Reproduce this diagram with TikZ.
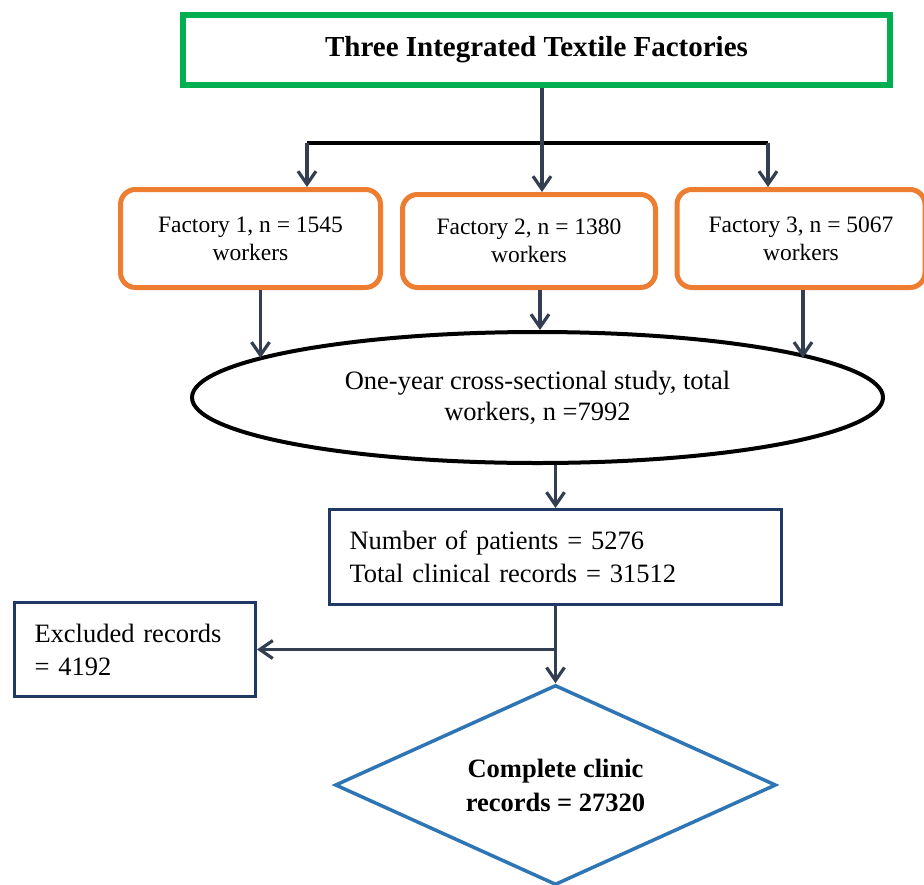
\documentclass[tikz,border=0pt]{standalone}
\usepackage{fontspec}
\setmainfont{Liberation Serif}
\usetikzlibrary{arrows.meta, shapes.geometric}

\definecolor{titlegreen}{HTML}{00B050}
\definecolor{factoryorange}{HTML}{ED7D31}
\definecolor{recordnavy}{HTML}{203864}
\definecolor{resultblue}{HTML}{2E75B6}
\definecolor{arrowslate}{HTML}{333F50}

\begin{document}
\begin{tikzpicture}[
  x=1pt,
  y=-1pt,
  titlebox/.style={
    draw=titlegreen,
    line width=6pt,
    minimum width=707pt,
    minimum height=70pt,
    font=\bfseries\fontsize{29}{34}\selectfont
  },
  factorybox/.style={
    draw=factoryorange,
    line width=5pt,
    rounded corners=15pt,
    align=center,
    font=\fontsize{23.5}{28}\selectfont
  },
  studyellipse/.style={
    ellipse,
    draw=black,
    line width=4pt,
    inner sep=0pt,
    minimum width=691pt,
    minimum height=131pt,
    align=center,
    font=\fontsize{26.5}{31}\selectfont
  },
  recordbox/.style={
    draw=recordnavy,
    line width=3pt,
    inner xsep=20pt,
    align=left,
    font=\fontsize{26.5}{33}\selectfont
  },
  resultdiamond/.style={
    diamond,
    aspect=2.2,
    draw=resultblue,
    line width=3.5pt,
    inner sep=0pt,
    minimum width=441pt,
    minimum height=200pt,
    align=center,
    font=\bfseries\fontsize{26.5}{34}\selectfont
  },
  flowarrow/.style={
    draw=arrowslate,
    line width=3.2pt,
    -{Straight Barb[length=13pt,width=18pt,line width=3.2pt]}
  },
  branchbar/.style={draw=black, line width=4.5pt}
]

% Canvas
\path[use as bounding box] (0,0) rectangle (924,884);

% Title
\node[titlebox] (title) at (536.5,50)
  {Three Integrated Textile Factories};

% Factories
\node[factorybox, minimum width=260pt, minimum height=98pt] (f1) at (250.5,238.5)
  {Factory 1, n = 1545\\ workers};
\node[factorybox, minimum width=253pt, minimum height=93pt] (f2) at (529,241)
  {Factory 2, n = 1380\\ workers};
\node[factorybox, minimum width=248pt, minimum height=98pt] (f3) at (801,238.5)
  {Factory 3, n = 5067\\ workers};

% Study
\node[studyellipse] (study) at (537.5,397.5)
  {One-year cross-sectional study, total\\ workers, n =7992};

% Records
\node[recordbox, text width=412pt, minimum height=95pt] (patients) at (555.5,557)
  {Number of patients = 5276\\ Total clinical records = 31512};
\node[recordbox, text width=201pt, minimum height=94pt] (excluded) at (135,649.5)
  {Excluded records\\ = 4192};

% Result
\node[resultdiamond] (result) at (555.5,785)
  {Complete clinic\\ records = 27320};

% Split from the title
\coordinate (hub) at (542,143);
\coordinate (drop1) at (307,143);
\coordinate (drop3) at (768,143);
\draw[branchbar] (drop1) -- (drop3);
\draw[flowarrow] (title.south -| hub) -- (hub |- f2.north);
\draw[flowarrow] (drop1) -- (drop1 |- f1.north);
\draw[flowarrow] (drop3) -- (drop3 |- f3.north);

% Factories into the study
\draw[flowarrow] ([xshift=10pt]f1.south) -- ([xshift=10pt]f1.south |- study.172.8);
\draw[flowarrow] ([xshift=11pt]f2.south) -- ([xshift=11pt]f2.south |- study.north);
\draw[flowarrow] ([xshift=2pt]f3.south) -- ([xshift=2pt]f3.south |- study.8.2);

% Study to records
\draw[flowarrow] (study.south -| patients.north) -- (patients.north);
\draw[flowarrow] (patients.south) -- (result.north);
\draw[flowarrow] (patients.south |- excluded.east) -- (excluded.east);

\end{tikzpicture}
\end{document}
